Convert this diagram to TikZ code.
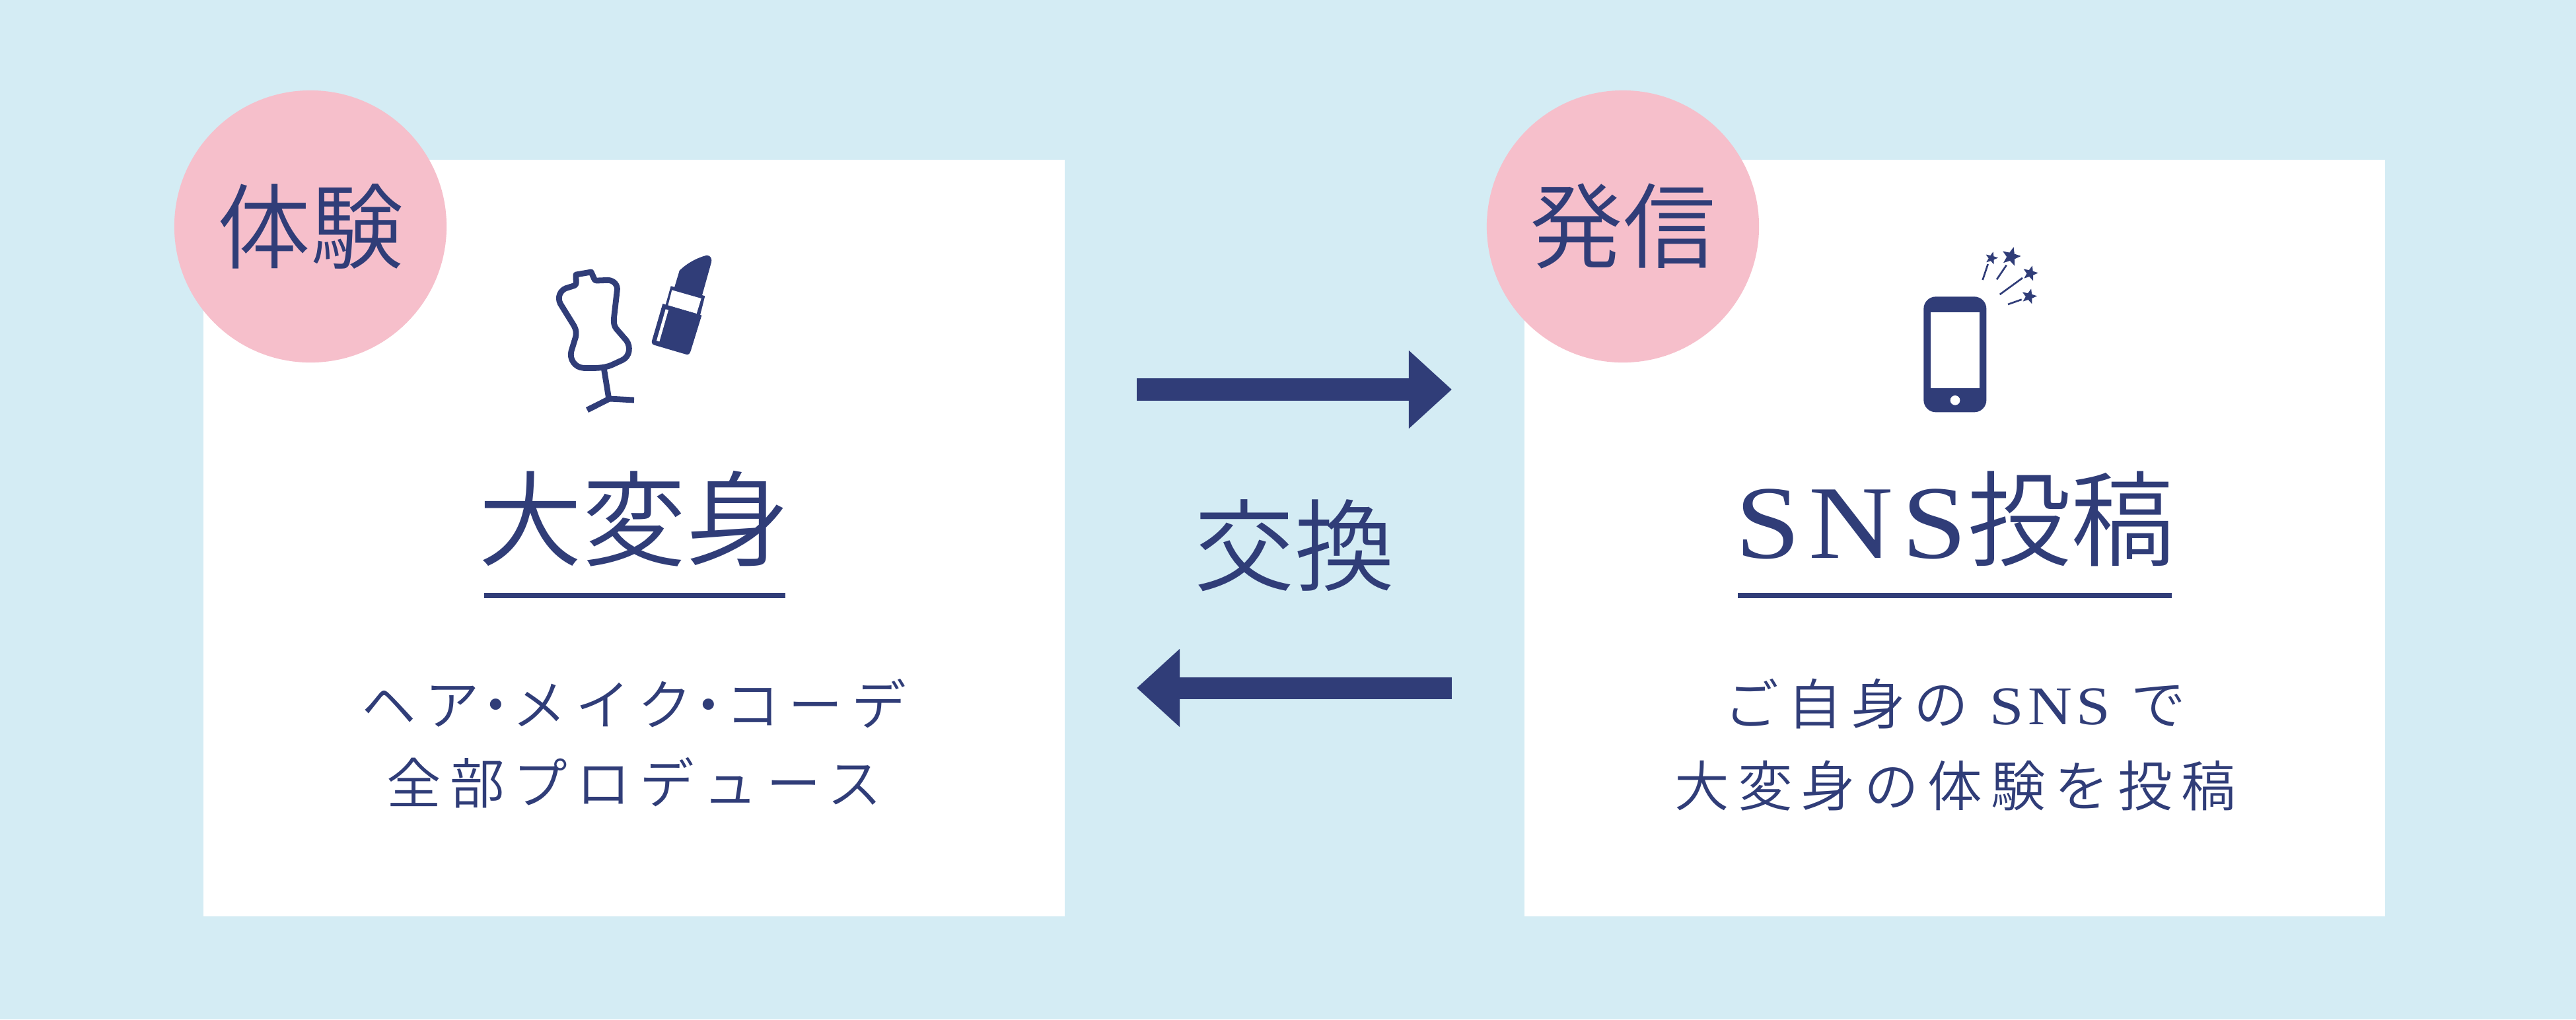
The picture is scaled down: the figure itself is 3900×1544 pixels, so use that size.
\documentclass[tikz,border=0pt]{standalone}
\usepackage{fontspec}
\usetikzlibrary{arrows.meta,shapes.geometric}
\newfontfamily\jp{Noto Sans CJK JP DemiLight}
\newfontfamily\jpsp{Noto Sans CJK JP DemiLight}[LetterSpace=16]
\newfontfamily\lat{Liberation Serif}[LetterSpace=8,FakeStretch=1.12]
\definecolor{bgblue}{HTML}{D4ECF4}
\definecolor{rosy}{HTML}{F6BFCB}
\definecolor{navy}{HTML}{303D78}
\newcommand{\nd}{\hspace{-0.2em}・\hspace{-0.2em}}
\tikzset{
 panel/.style={fill=white,draw=none},
 badge/.style={circle,fill=rosy,minimum size=41.2mm,inner sep=0pt,font=\jp\fontsize{40}{40}\selectfont,text=navy},
 titletext/.style={font=\jp\fontsize{44.7}{44.7}\selectfont,text=navy,inner sep=0pt},
 subtext/.style={font=\jpsp\fontsize{23.5}{23.5}\selectfont,text=navy,inner sep=0pt},
 rule/.style={draw=navy,line width=2.3pt},
 bigarrow/.style={draw=navy,line width=9.4pt,-{Triangle[length=18.5pt,width=32.5pt,fill=navy]}},
 icon/.style={draw=navy,line width=2.5pt},
 sparkline/.style={draw=navy,line width=0.76pt},
 sparkstar/.style={star,star points=5,star point ratio=2.3,fill=navy,inner sep=0pt},
}
\begin{document}
\begin{tikzpicture}[x=0.01cm,y=-0.01cm]
\useasboundingbox (0,0) rectangle (3900,1544);
\fill[bgblue] (0,0) rectangle (3900,1544);
\fill[panel] (308,242) rectangle (1612,1388);
\fill[panel] (2308,242) rectangle (3611,1388);
\node[badge] (b1) at (470,343) {体験};
\node[badge] (b2) at (2457,343) {発信};
% mannequin and lipstick
\begin{scope}[shift={(780,340)},x=0.01cm/3,y=-0.01cm/3]
\draw[icon,line join=round] (276,228) -- (345,216) -- (358,245) .. controls (360,252) and (362,255) .. (370,255) -- (420,253) .. controls (450,253) and (466,278) .. (463,298) -- (449,420) .. controls (446,450) and (450,462) .. (460,475) -- (505,527) .. controls (525,555) and (522,600) .. (485,617) -- (435,640) .. controls (400,653) and (370,653) .. (310,652) .. controls (270,650) and (245,610) .. (255,575) -- (275,510) .. controls (280,480) and (270,465) .. (262,452) -- (205,360) .. controls (190,330) and (205,300) .. (230,290) -- (268,278) .. controls (282,272) and (275,262) .. (276,228) -- cycle;
\draw[icon] (403,655) -- (425,790);
\draw[icon] (327,843) -- (428,792) -- (540,798);
\fill[navy] (722,290) -- (746,210) .. controls (780,175) and (830,150) .. (870,140) .. controls (888,140) and (896,158) .. (890,175) -- (848,325) -- cycle;
\fill[navy] (707,280) -- (862,325) -- (840,412) -- (683,365) -- cycle;
\fill[white] (712,298) -- (845,336) -- (824,405) -- (694,368) -- cycle;
\fill[navy] (670,360) -- (847,413) -- (797,575) .. controls (792,590) and (785,593) .. (775,590) -- (632,548) .. controls (620,544) and (618,535) .. (622,525) -- cycle;
\fill[white] (683,385) -- (696,389) -- (655,532) -- (642,528) -- cycle;
\end{scope}
% phone
\begin{scope}[shift={(2860,340)},x=0.01cm/3,y=-0.01cm/3]
\fill[navy,rounded corners=0.183cm] (157,328) rectangle (442,853);
\fill[white] (190,398) rectangle (410,745);
\fill[white] (300,799) circle (22);
\draw[sparkline] (425,252) -- (449,180);
\draw[sparkline] (489,250) -- (533,185);
\draw[sparkline] (503,318) -- (606,243);
\draw[sparkline] (540,363) -- (602,341);
\node[sparkstar,minimum size=0.2cm,rotate=-15] (s1) at (465,153) {};
\node[sparkstar,minimum size=0.3cm,rotate=-15] (s2) at (554,146) {};
\node[sparkstar,minimum size=0.24cm,rotate=-15] (s3) at (641,222) {};
\node[sparkstar,minimum size=0.24cm,rotate=-15] (s4) at (636,327) {};
\end{scope}
% titles
\node[titletext] (t1) at (960,786) {大変身};
\coordinate (r1a) at (733,902); \coordinate (r1b) at (1189,902);
\draw[rule] (r1a) -- (r1b);
\node[titletext] (t2) at (2960,786) {{\lat\fontsize{45}{45}\selectfont SNS}投稿};
\coordinate (r2a) at (2631,902); \coordinate (r2b) at (3288,902);
\draw[rule] (r2a) -- (r2b);
% sub texts
\node[subtext] (s11) at (960,1066) {ヘア\nd メイク\nd コーデ};
\node[subtext] (s12) at (960,1186) {全部プロデュース};
\node[subtext] (s21) at (2960,1066) {ご自身の {\lat\fontsize{23.5}{23.5}\selectfont SNS} で};
\node[subtext] (s22) at (2960,1190) {大変身の体験を投稿};
% middle
\node[titletext,font=\jp\fontsize{43}{43}\selectfont] (x) at (1960,826) {交換};
\coordinate (a1) at (1721,590); \coordinate (a2) at (2198,590);
\draw[bigarrow] (a1) -- (a2);
\coordinate (a3) at (2198,1042); \coordinate (a4) at (1721,1042);
\draw[bigarrow] (a3) -- (a4);
\end{tikzpicture}
\end{document}
